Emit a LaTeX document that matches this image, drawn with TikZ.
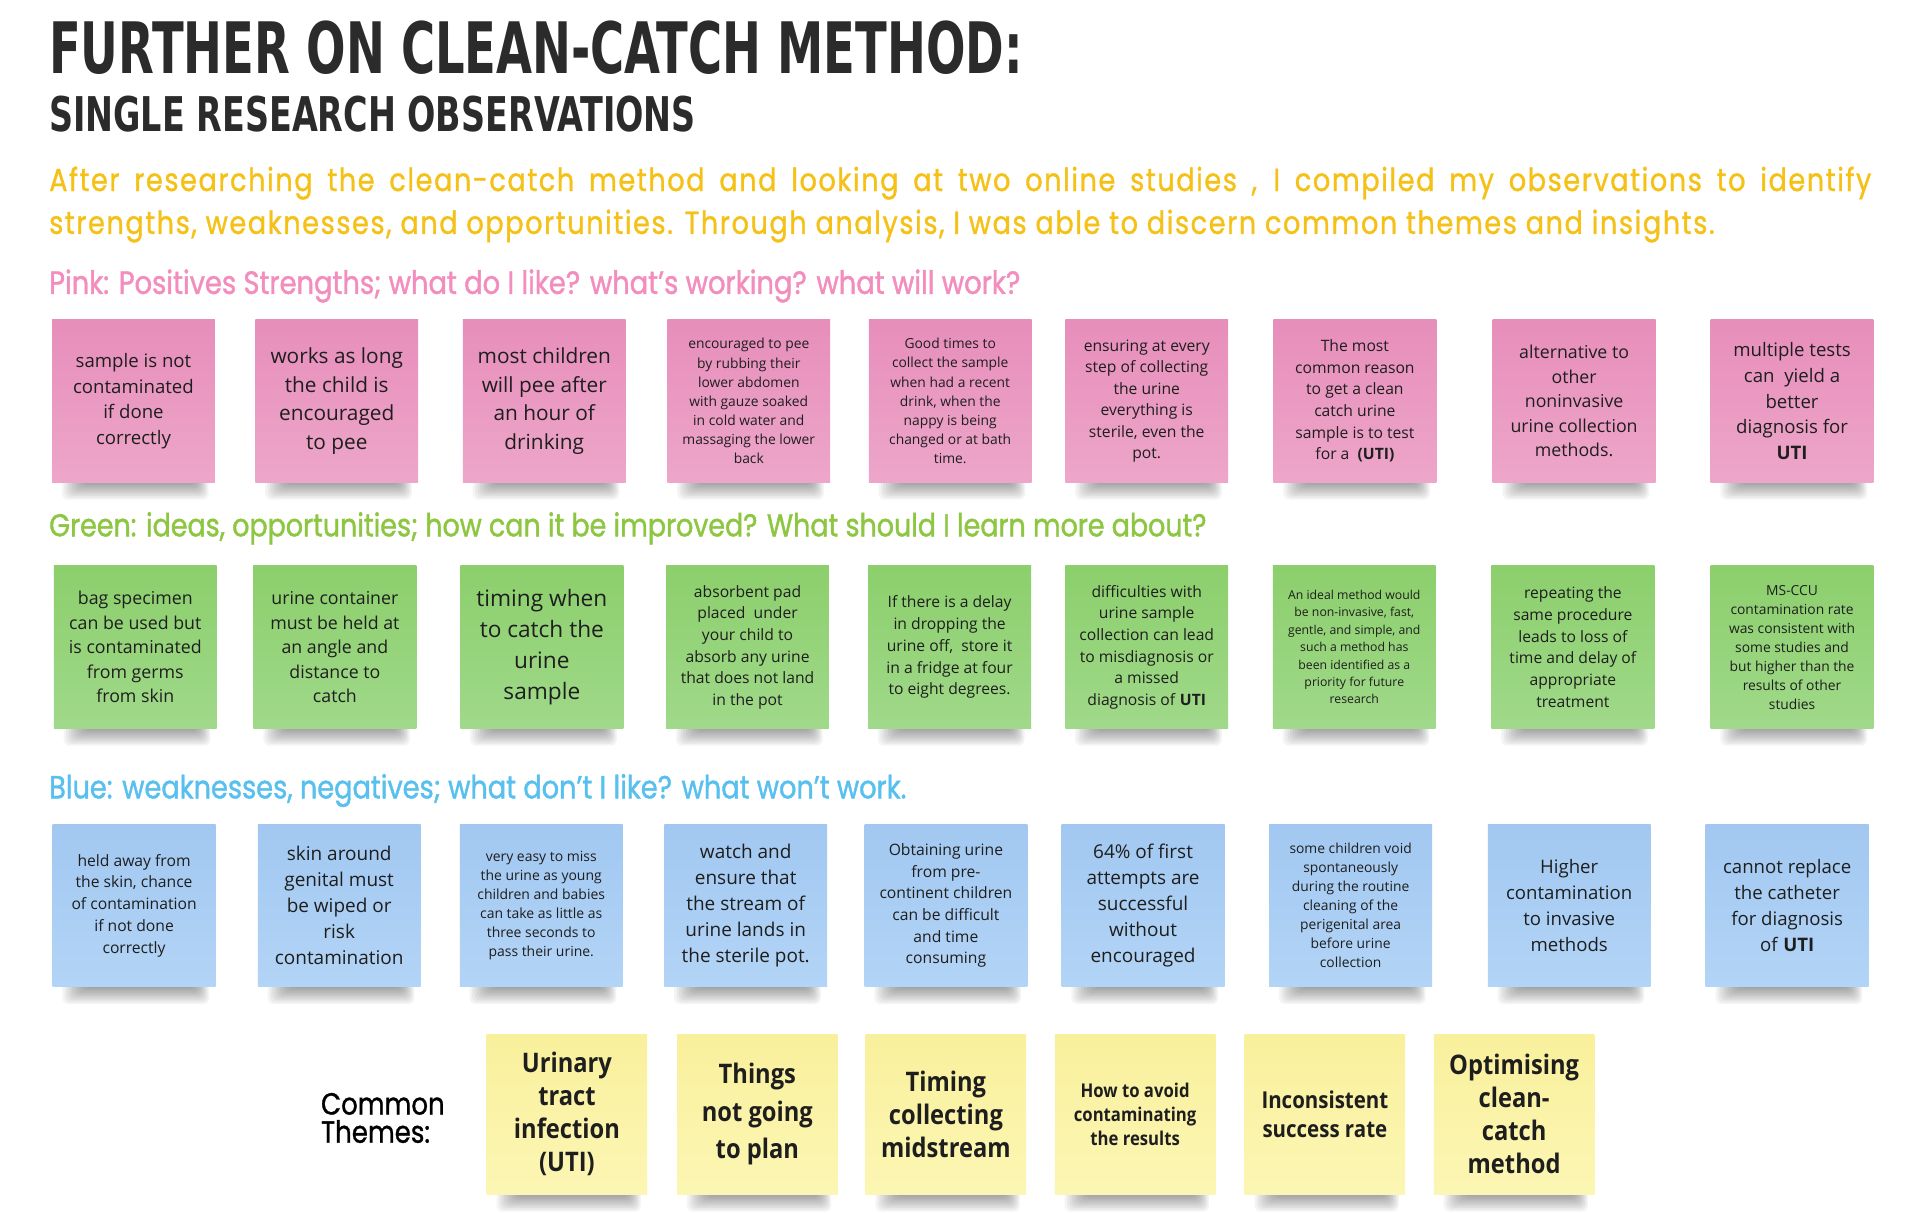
\documentclass[tikz,border=0pt]{standalone}
\usepackage{fontspec}
\usepackage{graphicx}
\setmainfont{Open Sans}
\newfontfamily\notefont{Open Sans}
\newfontfamily\yelfont[FakeStretch=0.88]{Open Sans}
\newfontfamily\titlefont{DejaVu Sans Condensed}
\newfontfamily\headfont[FakeStretch=0.85,FakeBold=1.2]{Poppins}
\newfontfamily\themefont[FakeStretch=0.85,FakeBold=1.0]{Poppins}
\newfontfamily\parafont[FakeStretch=0.85,LetterSpace=5,FakeBold=1.0]{Poppins}
\definecolor{pinkA}{HTML}{E78EBB}
\definecolor{pinkB}{HTML}{EDA6C9}
\definecolor{greenA}{HTML}{8CCF6C}
\definecolor{greenB}{HTML}{A0D98A}
\definecolor{blueA}{HTML}{A2C8F1}
\definecolor{blueB}{HTML}{B2D4F6}
\definecolor{yelA}{HTML}{F9F09C}
\definecolor{yelB}{HTML}{FCF6B4}
\definecolor{titlegray}{HTML}{2B2B2B}
\definecolor{paragold}{HTML}{F6C117}
\definecolor{headpink}{HTML}{F28DBE}
\definecolor{headgreen}{HTML}{8DC641}
\definecolor{headblue}{HTML}{58C0EE}
\definecolor{notetext}{HTML}{1E1E1E}
\newsavebox\paraBox
\newlength\parawid
\newcommand\paraBtext{strengths, weaknesses, and opportunities. Through analysis, I was able to discern common themes and insights.}
\newcommand\paraAtext{After researching the clean-catch method and looking at two online studies , I compiled my observations to identify}
\newcommand\parasize{\parafont\fontsize{22}{26}\selectfont}
\tikzset{
  notebase/.style={text=notetext,align=center,inner sep=0pt},
  pinknote/.style={notebase,top color=pinkA,bottom color=pinkB},
  greennote/.style={notebase,top color=greenA,bottom color=greenB},
  bluenote/.style={notebase,top color=blueA,bottom color=blueB},
  yellownote/.style={notebase,top color=yelA,bottom color=yelB},
  textline/.style={anchor=base west,inner sep=0pt},
  shadowlayer/.style={black,opacity=0.042,rounded corners=5pt},
}
\newcommand\notefamily{\notefont}
\newcommand\notew{133}
\newcommand\noteh{133}
\newcommand\sticky[7]{%
  \foreach \k in {0,...,9}{%
    \fill[shadowlayer] ({#2+26-2.0*\k},{#3+\noteh-6}) rectangle ({#2+\notew-16+1.2*\k},{#3+\noteh+0.5+1.5*\k});
  }%
  \node[#4,minimum width=\notew pt,minimum height=\noteh pt,font={\notefamily\fontsize{#5}{#6}\selectfont}] (#1) at ({#2+\notew/2},{#3+\noteh/2}) {#7};
}
\begin{document}
\begin{tikzpicture}[x=1pt,y=-1pt]
\useasboundingbox (0,0) rectangle (1568,990);
\fill[white] (0,0) rectangle (1568,990);
% title
\node[textline,text=titlegray] (title) at (40,60) {\resizebox{795pt}{43pt}{\titlefont\bfseries FURTHER ON CLEAN-CATCH METHOD:}};
\node[textline,text=titlegray] (subtitle) at (40,107) {\resizebox{528pt}{29pt}{\titlefont\bfseries SINGLE RESEARCH OBSERVATIONS}};
% paragraph
\node[textline,text=paragold] (para2) at (40,191) {\sbox\paraBox{\parasize\paraBtext}\global\parawid=\wd\paraBox\resizebox{1360pt}{!}{\usebox\paraBox}};
\pgfmathsetmacro\pfac{1360/\parawid}
\pgfmathsetmacro\wA{1488/\pfac}
\node[textline,text=paragold] (para1) at (40,156) {\scalebox{\pfac}{\makebox[\wA pt][s]{\parasize\paraAtext}}};
% headings
\node[textline,text=headpink] (hpink) at (40,240) {\resizebox{793pt}{!}{\headfont\fontsize{22}{26}\selectfont Pink: Positives Strengths; what do I like? what’s working? what will work?}};
\node[textline,text=headgreen] (hgreen) at (40,438) {\resizebox{945pt}{!}{\headfont\fontsize{22}{26}\selectfont Green: ideas, opportunities; how can it be improved? What should I learn more about?}};
\node[textline,text=headblue] (hblue) at (40,652) {\resizebox{700pt}{!}{\headfont\fontsize{22}{26}\selectfont Blue: weaknesses, negatives; what don’t I like? what won’t work.}};
% pink row
\sticky{p1}{42.5}{261}{pinknote}{15.2}{21}{sample is not\\contaminated\\if done\\correctly}
\sticky{p2}{208.5}{261}{pinknote}{17}{23.5}{works as long\\the child is\\encouraged\\to pee}
\sticky{p3}{378}{261}{pinknote}{17}{23.5}{most children\\will pee after\\an hour of\\drinking}
\sticky{p4}{545}{261}{pinknote}{11.3}{15.6}{encouraged to pee\\by rubbing their\\lower abdomen\\with gauze soaked\\in cold water and\\massaging the lower\\back}
\sticky{p5}{709.5}{261}{pinknote}{11.3}{15.6}{Good times to\\collect the sample\\when had a recent\\drink, when the\\nappy is being\\changed or at bath\\time.}
\sticky{p6}{870}{261}{pinknote}{12.8}{17.6}{ensuring at every\\step of collecting\\the urine\\everything is\\sterile, even the\\pot.}
\sticky{p7}{1040}{261}{pinknote}{12.8}{17.6}{The most\\common reason\\to get a clean\\catch urine\\sample is to test\\for a \ \textbf{(UTI)}}
\sticky{p8}{1219}{261}{pinknote}{14.5}{20}{alternative to\\other\\noninvasive\\urine collection\\methods.}
\sticky{p9}{1397}{261}{pinknote}{15.2}{21}{multiple tests\\can \ yield a\\better\\diagnosis for\\\textbf{UTI}}
% green row
\sticky{g1}{44}{462}{greennote}{14.5}{20}{bag specimen\\can be used but\\is contaminated\\from germs\\from skin}
\sticky{g2}{207}{462}{greennote}{14.5}{20}{urine container\\must be held at\\an angle and\\distance to\\catch}
\sticky{g3}{376}{462}{greennote}{18.5}{25.5}{timing when\\to catch the\\urine\\sample}
\sticky{g4}{544}{462}{greennote}{12.8}{17.7}{absorbent pad\\placed \ under\\your child to\\absorb any urine\\that does not land\\in the pot}
\sticky{g5}{709}{462}{greennote}{12.8}{17.8}{If there is a delay\\in dropping the\\urine off, \ store it\\in a fridge at four\\to eight degrees.}
\sticky{g6}{870}{462}{greennote}{12.8}{17.7}{difficulties with\\urine sample\\collection can lead\\to misdiagnosis or\\a missed\\diagnosis of \textbf{UTI}}
\sticky{g7}{1039.5}{462}{greennote}{10}{14.2}{An ideal method would\\be non-invasive, fast,\\gentle, and simple, and\\such a method has\\been identified as a\\priority for future\\research}
\sticky{g8}{1218}{462}{greennote}{12.8}{17.7}{repeating the\\same procedure\\leads to loss of\\time and delay of\\appropriate\\treatment}
\sticky{g9}{1397}{462}{greennote}{11.3}{15.5}{MS-CCU\\contamination rate\\was consistent with\\some studies and\\but higher than the\\results of other\\studies}
% blue row
\sticky{b1}{43}{673}{bluenote}{12.8}{17.8}{held away from\\the skin, chance\\of contamination\\if not done\\correctly}
\sticky{b2}{210.5}{673}{bluenote}{15.5}{21.3}{skin around\\genital must\\be wiped or\\risk\\contamination}
\sticky{b3}{375.5}{673}{bluenote}{11.4}{15.4}{very easy to miss\\the urine as young\\children and babies\\can take as little as\\three seconds to\\pass their urine.}
\sticky{b4}{542.5}{673}{bluenote}{15.5}{21.3}{watch and\\ensure that\\the stream of\\urine lands in\\the sterile pot.}
\sticky{b5}{706}{673}{bluenote}{12.8}{17.7}{Obtaining urine\\from pre-\\continent children\\can be difficult\\and time\\consuming}
\sticky{b6}{867}{673}{bluenote}{15.5}{21.3}{64\% of first\\attempts are\\successful\\without\\encouraged}
\sticky{b7}{1036.5}{673}{bluenote}{11.3}{15.5}{some children void\\spontaneously\\during the routine\\cleaning of the\\perigenital area\\before urine\\collection}
\sticky{b8}{1215}{673}{bluenote}{15.2}{21}{Higher\\contamination\\to invasive\\methods}
\sticky{b9}{1393}{673}{bluenote}{15.2}{21}{cannot replace\\the catheter\\for diagnosis\\of \textbf{UTI}}
% yellow row
\renewcommand\notefamily{\yelfont\bfseries}
\renewcommand\notew{131}
\renewcommand\noteh{131}
\sticky{y1}{397.5}{844.5}{yellownote}{22}{27}{Urinary\\tract\\infection\\(UTI)}
\sticky{y2}{553}{844.5}{yellownote}{22}{30.5}{Things\\not going\\to plan}
\sticky{y3}{707}{844.5}{yellownote}{22}{27}{Timing\\collecting\\midstream}
\sticky{y4}{861.5}{844.5}{yellownote}{15.5}{19.5}{How to avoid\\contaminating\\the results}
\sticky{y5}{1016.5}{844.5}{yellownote}{19}{23}{Inconsistent\\success rate}
\sticky{y6}{1171}{844.5}{yellownote}{22}{27}{Optimising\\clean-\\catch\\method}
\node[anchor=west,align=left,inner sep=0pt,text=black,font={\themefont\fontsize{25}{23}\selectfont}] (themes) at (262,913) {Common\\Themes:};
\end{tikzpicture}
\end{document}
